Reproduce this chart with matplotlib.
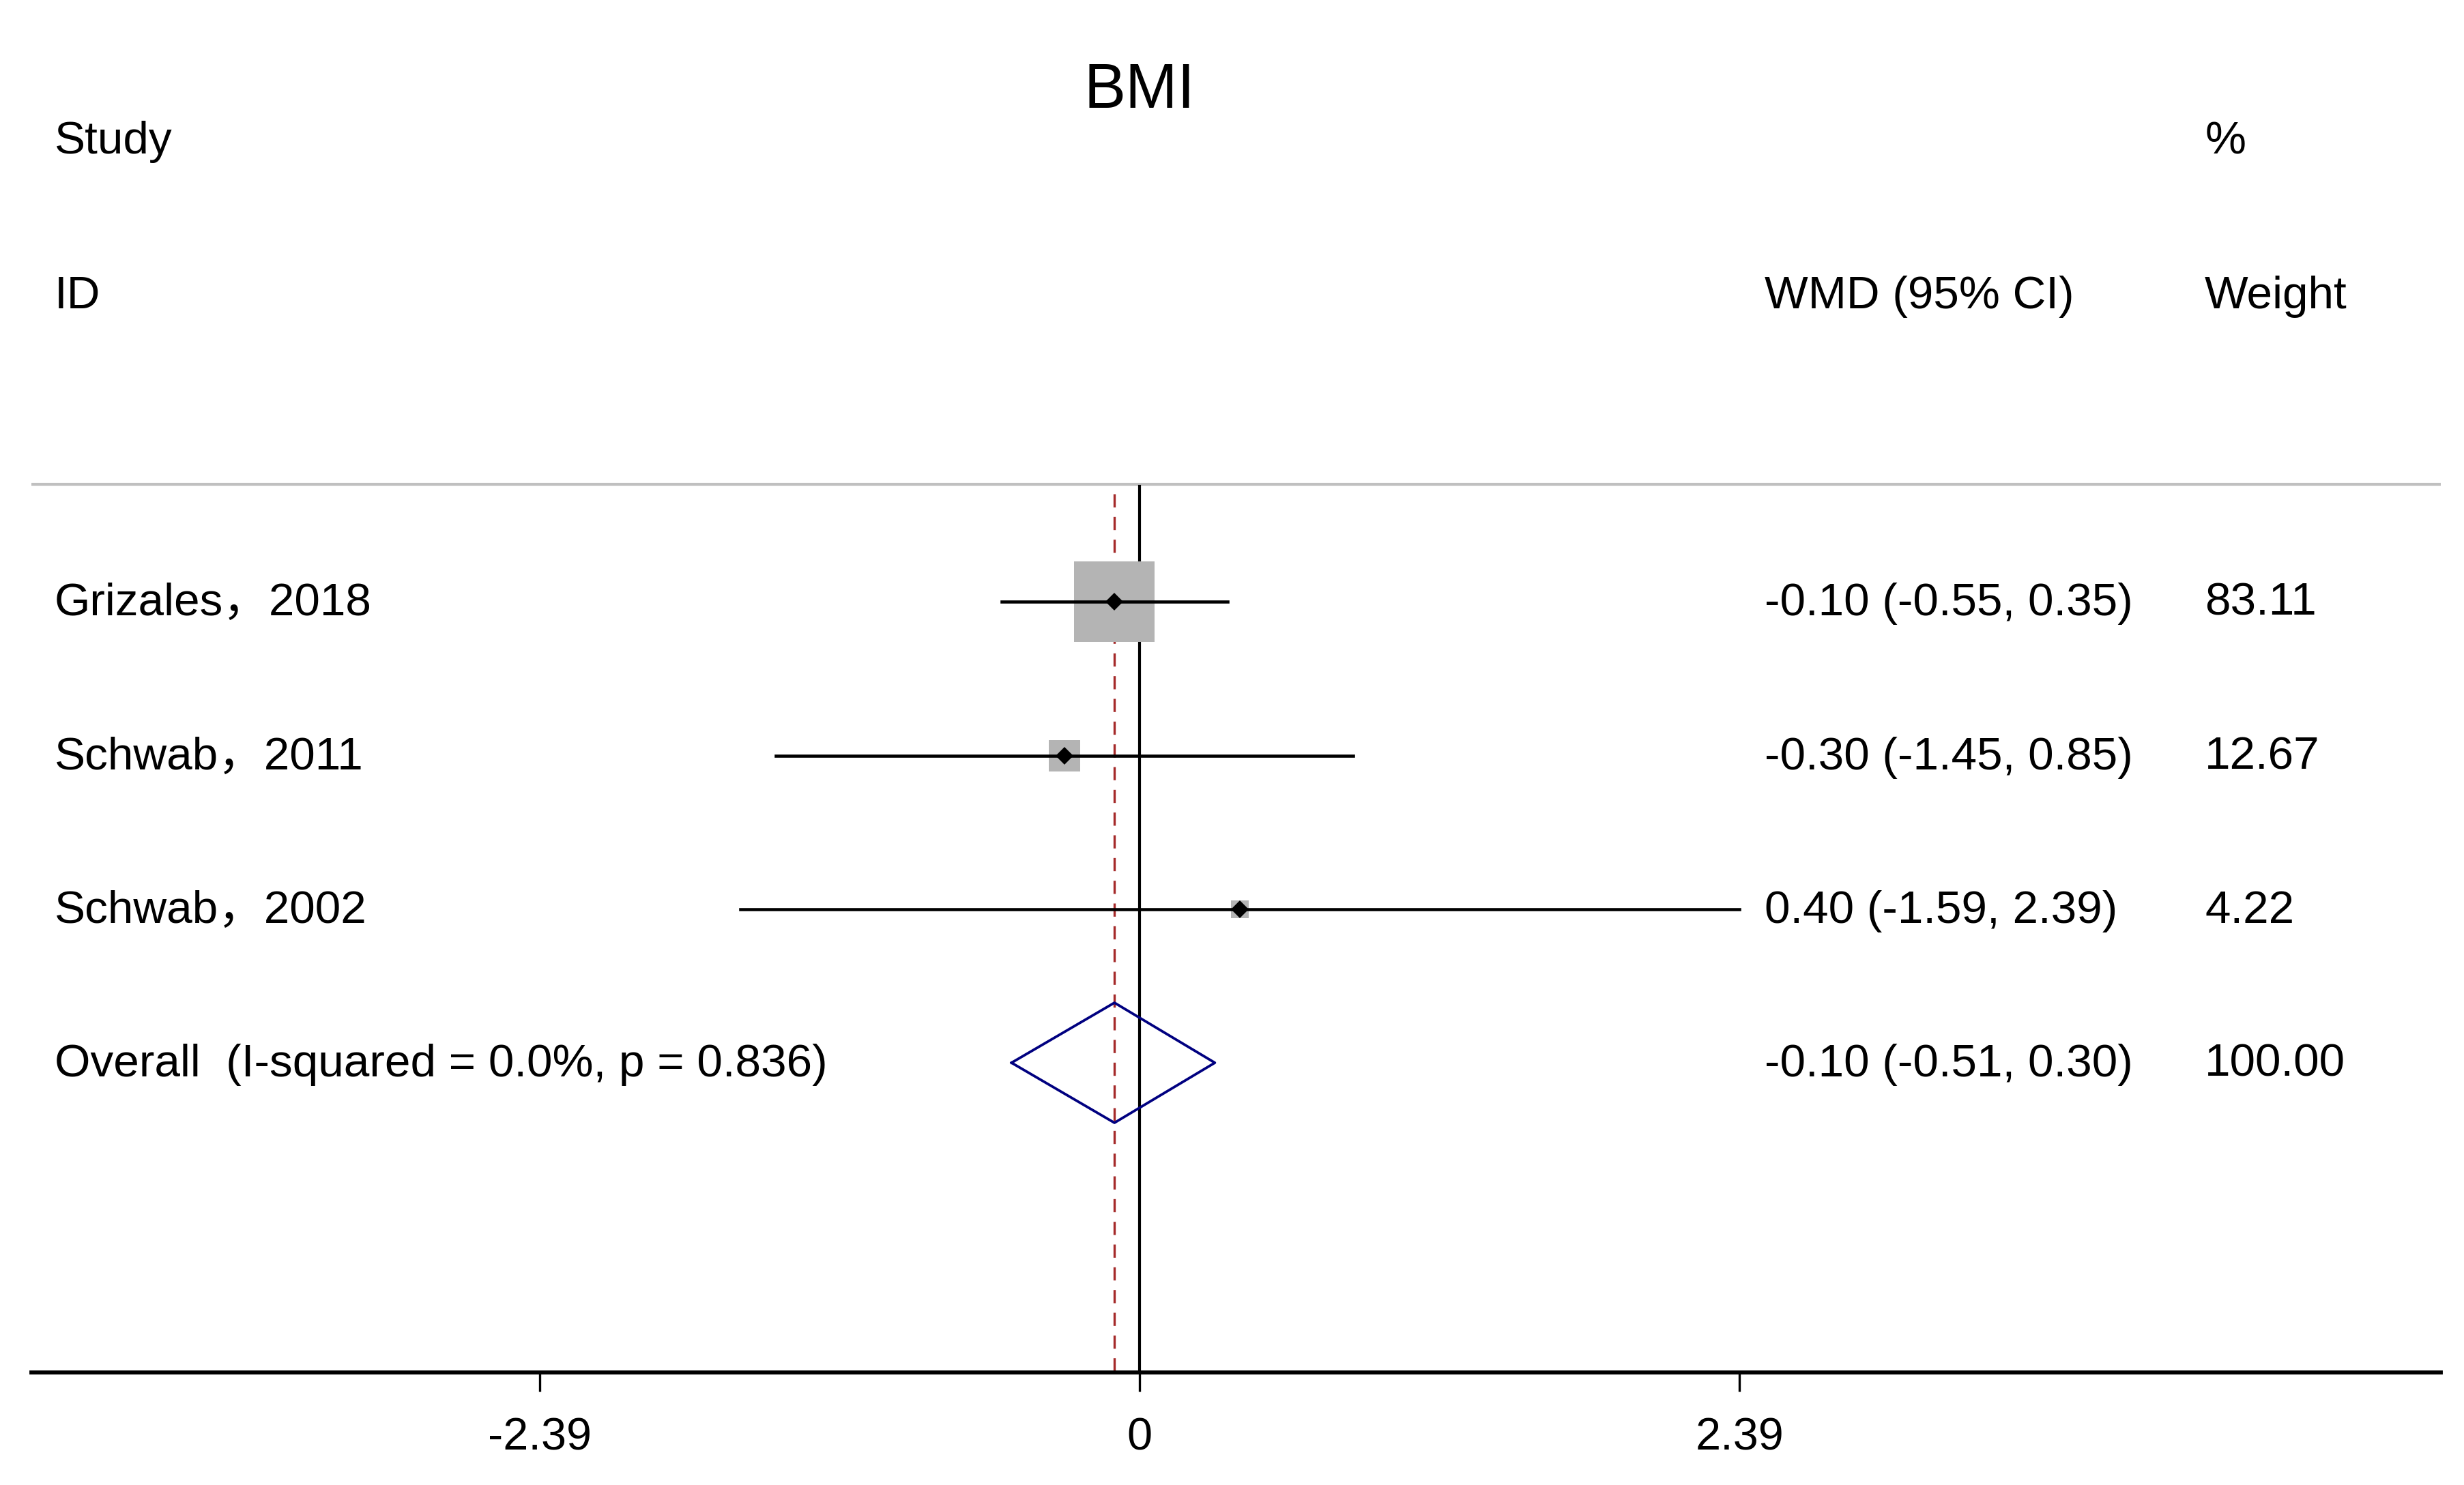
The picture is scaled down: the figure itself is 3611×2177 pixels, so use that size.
import matplotlib
matplotlib.use("Agg")
import matplotlib.pyplot as plt

plt.rcParams['font.family'] = ['Liberation Sans', 'Noto Sans CJK SC', 'DejaVu Sans']

# data
studies = ['Grizales，2018', 'Schwab，2011', 'Schwab，2002']
est = [-0.10, -0.30, 0.40]
lo = [-0.55, -1.45, -1.59]
hi = [0.35, 0.85, 2.39]
weights = [83.11, 12.67, 4.22]
ci_text = ['-0.10 (-0.55, 0.35)', '-0.30 (-1.45, 0.85)', '0.40 (-1.59, 2.39)']
w_text = ['83.11', '12.67', '4.22']

overall_label = 'Overall  (I-squared = 0.0%, p = 0.836)'
overall_est = -0.10
overall_lo = -0.51
overall_hi = 0.30
overall_ci = '-0.10 (-0.51, 0.30)'
overall_w = '100.00'

ticks = [-2.39, 0, 2.39]
tick_labels = ['-2.39', '0', '2.39']

W, H = 3611, 2177
fig = plt.figure(figsize=(W / 300, H / 300), dpi=300)
# axes: x in data units, y in pixels from the top of the figure
ax_bottom_px = 2012
ax = fig.add_axes([46 / W, (H - ax_bottom_px) / H, (3577 - 46) / W, ax_bottom_px / H])
ax.set_xlim(-4.414, 5.183)
ax.set_ylim(ax_bottom_px, 0)
for s in ['top', 'left', 'right']:
    ax.spines[s].set_visible(False)
ax.spines['bottom'].set_linewidth(1.4)
ax.set_yticks([])
ax.set_xticks(ticks)
ax.set_xticklabels(tick_labels)
ax.tick_params(axis='x', length=6.7, width=0.8, pad=9, labelsize=16)

row_y = [882, 1108, 1333]
over_y = 1558
txt_off = 20
x_lab = -4.322
x_ci = 2.49
x_w = 4.243
fs = 16.2

# title and headers
ax.text(0, 158, 'BMI', fontsize=22, ha='center', va='baseline')
ax.text(x_lab, 225, 'Study', fontsize=fs, va='baseline')
ax.text(x_lab, 452, 'ID', fontsize=fs, va='baseline')
ax.text(x_ci, 452, 'WMD (95% CI)', fontsize=fs, va='baseline')
ax.text(x_w, 226, '%', fontsize=fs, va='baseline')
ax.text(x_w, 452, 'Weight', fontsize=fs, va='baseline')

# separator line
ax.axhline(710, color='#c0c0c0', lw=1.0)

# null line and overall line
ax.plot([0, 0], [713, ax_bottom_px], color='black', lw=1.0)
ax.plot([overall_est, overall_est], [724, ax_bottom_px], color='#a52a2a', lw=0.8,
        dashes=(5.8, 4.2))

# studies
for i in range(len(studies)):
    y = row_y[i]
    side = 12.9 * weights[i] ** 0.5 * 72 / 300
    ax.plot([est[i]], [y], marker='s', markersize=side, color='#b4b4b4',
            markeredgewidth=0, zorder=2)
    ax.plot([lo[i], hi[i]], [y, y], color='black', lw=1.1, zorder=3)
    ax.plot([est[i]], [y], marker='D', markersize=3.3, color='black', zorder=4)
    ax.text(x_lab, y + txt_off, studies[i], fontsize=fs, va='baseline')
    ax.text(x_ci, y + txt_off, ci_text[i], fontsize=fs, va='baseline')
    ax.text(x_w, y + txt_off, w_text[i], fontsize=fs, va='baseline')

# overall diamond
dh = 88
ax.plot([overall_lo, overall_est, overall_hi, overall_est, overall_lo],
        [over_y, over_y - dh, over_y, over_y + dh, over_y],
        color='#000080', lw=0.9, zorder=3)
ax.text(x_lab, over_y + txt_off, overall_label, fontsize=fs, va='baseline')
ax.text(x_ci, over_y + txt_off, overall_ci, fontsize=fs, va='baseline')
ax.text(x_w, over_y + txt_off, overall_w, fontsize=fs, va='baseline')

fig.savefig('out.png', dpi=300)
